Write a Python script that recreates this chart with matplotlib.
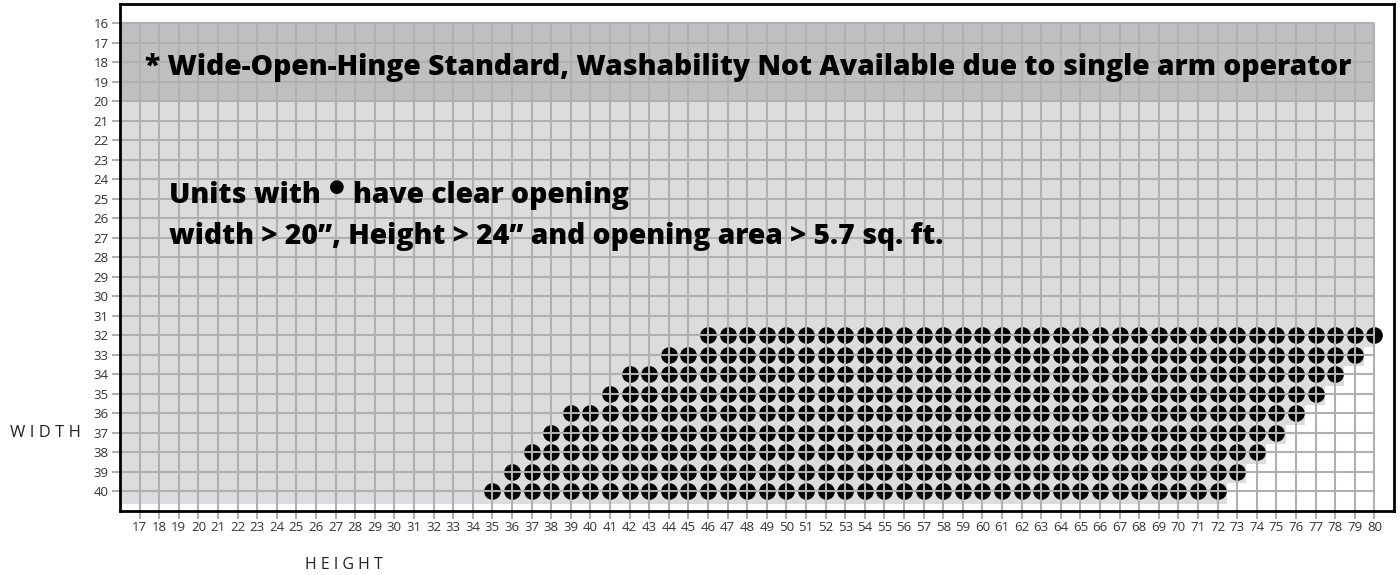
import matplotlib
matplotlib.use("Agg")
import matplotlib.pyplot as plt
from matplotlib.patches import Polygon, Rectangle
import numpy as np

# rows (width) that carry units, with first / last height that qualifies
widths = [32, 33, 34, 35, 36, 37, 38, 39, 40]
first_height = [46, 44, 42, 41, 39, 38, 37, 36, 35]
last_height = [80, 79, 78, 77, 76, 75, 74, 73, 72]

height_ticks = list(range(17, 81))
width_ticks = list(range(16, 41))

title_note = "* Wide-Open-Hinge Standard, Washability Not Available due to single arm operator"
note_a = "Units with"
note_b = "have clear opening"
note_c = "width > 20\u201d, Height > 24\u201d and opening area > 5.7 sq. ft."

DARK = "#bfbfc1"
LIGHT = "#dcdcdf"
GRID = "#b0b0b0"
TXT = ["Open Sans", "DejaVu Sans"]

fig = plt.figure(figsize=(14, 5.75), dpi=100)
ax = fig.add_axes([120 / 1400, 1 - 511 / 575, 1274 / 1400, 507 / 575])
ax.set_xlim(16, 81)
ax.set_ylim(41, 15)

x0, x1 = width_ticks[0], height_ticks[-1] + 0.05

# dark band for narrow widths
ax.add_patch(Rectangle((x0, 16), x1 - x0, 4, facecolor=DARK, edgecolor="none", zorder=1))

# light staircase area
pts = [(x0, 20), (x1, 20), (x1, widths[1] - 0.42)]
for w, e in zip(widths[1:], last_height[1:]):
    pts.append((e + 0.47, w - 0.42))
    pts.append((e + 0.47, w + 0.58))
pts[-1] = (pts[-1][0], 40.62)
pts.append((x0, 40.62))
ax.add_patch(Polygon(pts, closed=True, facecolor=LIGHT, edgecolor="none", zorder=1))

# dots
for w, s, e in zip(widths, first_height, last_height):
    hs = np.arange(s, e + 1)
    ax.plot(hs, np.full(len(hs), w), "o", color="black", markersize=12,
            markeredgewidth=0, zorder=2, clip_on=False)

# grid drawn on top of the dots
ax.hlines(width_ticks, x0, height_ticks[-1], colors=GRID, linewidth=1.5, zorder=3)
ax.vlines(height_ticks, 16, 41, colors=GRID, linewidth=1.5, zorder=3)

ax.set_xticks(height_ticks)
ax.set_yticks(width_ticks)
ax.tick_params(axis="both", direction="out", length=6, width=1.5, color=GRID,
               labelcolor="#333333", labelsize=9.5, pad=2)
ax.tick_params(axis="x", pad=1)
for lab in ax.get_xticklabels() + ax.get_yticklabels():
    lab.set_family(TXT)

for sp in ax.spines.values():
    sp.set_linewidth(2)
    sp.set_color("black")
    sp.set_zorder(5)

# notes
fnt = dict(family=TXT, fontweight="heavy", fontsize=20.3, color="black", zorder=4)
ax.text(17.28, 18.65, title_note, va="baseline", ha="left", **fnt)
t1 = ax.text(18.5, 25.18, note_a, va="baseline", ha="left", **fnt)
t2 = ax.annotate("\u25cf", xy=(1, 0.5), xycoords=t1, xytext=(6, 6),
                 textcoords="offset points", ha="left", va="center",
                 family=TXT, fontsize=13, color="black", zorder=4)
ax.annotate(note_b, xy=(1, 0.5), xycoords=(t2, t1), xytext=(6, 0),
            textcoords="offset points", ha="left", va="center", **fnt)
ax.text(18.5, 27.3, note_c, va="baseline", ha="left", **fnt)

ax.set_ylabel("W I D T H", rotation=0, ha="left", va="center", family=TXT,
              fontsize=12, color="#222222")
ax.yaxis.set_label_coords(-0.0863, 0.154)
ax.set_xlabel("H E I G H T", ha="left", va="center", family=TXT,
              fontsize=11.5, color="#222222")
ax.xaxis.set_label_coords(0.145, -0.1065)

fig.savefig("out.png", dpi=100)
